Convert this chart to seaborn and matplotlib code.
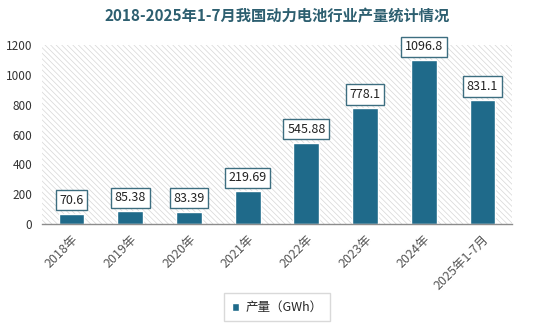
import matplotlib
matplotlib.use("Agg")
import matplotlib.pyplot as plt
import seaborn as sns
import pandas as pd
from matplotlib.patches import Rectangle

years = ["2018年", "2019年", "2020年", "2021年", "2022年", "2023年", "2024年", "2025年1-7月"]
output_gwh = [70.6, 85.38, 83.39, 219.69, 545.88, 778.1, 1096.8, 831.1]
value_labels = ["70.6", "85.38", "83.39", "219.69", "545.88", "778.1", "1096.8", "831.1"]
y_ticks = [0, 200, 400, 600, 800, 1000, 1200]

sns.set_theme(style="white")
plt.rcParams["font.family"] = ["Noto Sans CJK SC", "DejaVu Sans"]
plt.rcParams["hatch.linewidth"] = 0.5
plt.rcParams["hatch.color"] = "#d6d6d6"

df = pd.DataFrame({"year": years, "value": output_gwh})

fig = plt.figure(figsize=(5.54, 3.31), dpi=100)
ax = fig.add_axes([0.076, 0.323, 0.848, 0.541])

# hatched plot background
ax.add_patch(Rectangle((0, 0), 1, 1, transform=ax.transAxes, facecolor="white",
                       edgecolor="#d6d6d6", hatch="\\\\\\\\\\\\", linewidth=0, zorder=0))

sns.barplot(data=df, x="year", y="value", color="#1f6a8a", width=0.44,
            saturation=1, ax=ax, zorder=2, label="产量（GWh）")
if ax.get_legend() is not None:
    ax.get_legend().remove()

for i, (v, t) in enumerate(zip(output_gwh, value_labels)):
    ax.annotate(t, (i, v), xytext=(0, 5), textcoords="offset points",
                ha="center", va="bottom", fontsize=9, color="#222222", zorder=5,
                bbox=dict(boxstyle="square,pad=0.3", facecolor="white",
                          edgecolor="#3d6e80", linewidth=1.0))

ax.set_ylim(0, 1200)
ax.set_yticks(y_ticks)
ax.set_yticklabels([str(t) for t in y_ticks], fontsize=8.5, color="#333333")
ax.set_xlim(-0.5, len(years) - 0.5)
ax.set_xticks(range(len(years)))
ax.set_xticklabels(years, rotation=45, ha="right", rotation_mode="anchor",
                   fontsize=9, color="#555555")
ax.tick_params(axis="y", length=0, pad=7)
ax.tick_params(axis="x", length=0, pad=6)
ax.set_xlabel("")
ax.set_ylabel("")
for s in ["top", "right", "left"]:
    ax.spines[s].set_visible(False)
ax.spines["bottom"].set_color("#8c8c8c")
ax.spines["bottom"].set_linewidth(1.0)
ax.spines["bottom"].set_zorder(6)

fig.suptitle("2018-2025年1-7月我国动力电池行业产量统计情况", x=0.5, y=0.975,
             fontsize=11, fontweight="bold", color="#2d5f70")

handles, labels = ax.get_legend_handles_labels()
fig.legend(handles, labels, loc="lower center", bbox_to_anchor=(0.5, 0.01),
           frameon=True, fancybox=False, edgecolor="#d0d0d0", fontsize=9,
           handlelength=0.6, handleheight=0.6, handletextpad=0.5,
           borderpad=0.6)

fig.savefig("out.png", dpi=100)
